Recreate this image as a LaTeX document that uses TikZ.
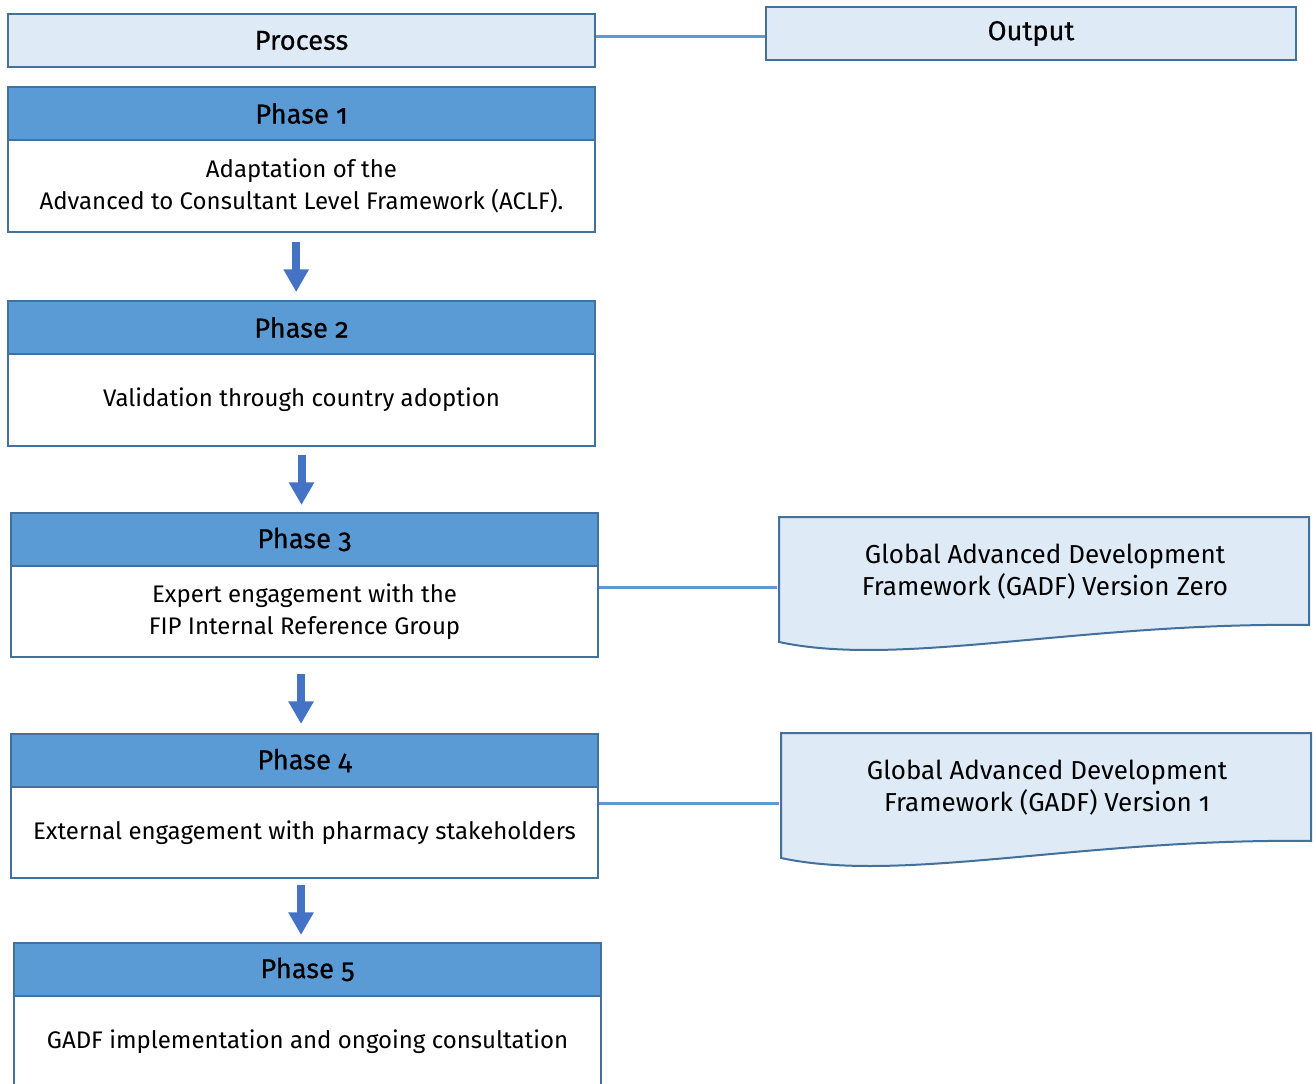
\documentclass[tikz,border=0pt]{standalone}
\usepackage{fontspec}
\setmainfont{Fira Sans}[Numbers=OldStyle]
\newfontfamily\hdrfont{Fira Sans}[Numbers=OldStyle, FakeBold=0.6]
\usetikzlibrary{arrows.meta}
\definecolor{hdrblue}{HTML}{5B9BD5}
\definecolor{edgeblue}{HTML}{41719C}
\definecolor{lightfill}{HTML}{DEEAF6}
\definecolor{arrowblue}{HTML}{4472C4}
\definecolor{linkblue}{HTML}{5B9BD5}
\tikzset{
  boxbase/.style={draw=edgeblue, line width=1.5pt, inner sep=0pt, anchor=north west,
    align=center, text=black, minimum width=587*0.75pt},
  titlebox/.style={boxbase, fill=lightfill, minimum height=53*0.75pt,
    font=\hdrfont\fontsize{20.5}{24}\selectfont},
  hdrbox/.style={boxbase, fill=hdrblue, minimum height=53*0.75pt,
    font=\hdrfont\fontsize{20.5}{24}\selectfont},
  bodybox/.style={boxbase, fill=white, minimum height=92*0.75pt},
  docshape/.style={draw=edgeblue, line width=1.5pt, fill=lightfill},
  doctext/.style={align=center, text=black, inner sep=0pt,
    font=\fontsize{19.5}{24}\selectfont},
  link/.style={draw=linkblue, line width=2.25pt},
  flowarrow/.style={draw=arrowblue, line width=6pt, -{Triangle[width=18pt,length=17pt]}}
}
\begin{document}
\begin{tikzpicture}[x=0.75pt,y=-0.75pt, font=\fontsize{18}{24}\selectfont]
\useasboundingbox (0,0) rectangle (1316,1084);
\clip (0,0) rectangle (1316,1084);

% header row
\node[titlebox] (proc) at (7,13) {Process};
\node[titlebox, minimum width=530*0.75pt] (out) at (765,6) {Output};
\draw[link] (proc.east |- 0,37) -- (out.west |- 0,37);

% phases
\node[hdrbox] (p1h) at (7,86) {Phase 1};
\node[bodybox] (p1b) at (7,139) {Adaptation of the\\Advanced to Consultant Level Framework (ACLF).};

\node[hdrbox] (p2h) at (7,300) {Phase 2};
\node[bodybox] (p2b) at (7,353) {Validation through country adoption};

\node[hdrbox] (p3h) at (10,512) {Phase 3};
\node[bodybox, minimum height=91*0.75pt] (p3b) at (10,565) {Expert engagement with the\\FIP Internal Reference Group};

\node[hdrbox] (p4h) at (10,733) {Phase 4};
\node[bodybox, minimum height=91*0.75pt] (p4b) at (10,786) {External engagement with pharmacy stakeholders};

\node[hdrbox] (p5h) at (13,942) {Phase 5};
\node[bodybox] (p5b) at (13,995) {GADF implementation and ongoing consultation};

% flow arrows
\draw[flowarrow, shorten <=9*0.75pt, shorten >=8*0.75pt]
  ([xshift=-4pt]p1b.south) -- ([xshift=-4pt]p1b.south |- p2h.north);
\draw[flowarrow, shorten <=8*0.75pt, shorten >=7*0.75pt]
  (p2b.south) -- (p2b.south |- p3h.north);
\draw[flowarrow, shorten <=16*0.75pt, shorten >=9*0.75pt]
  ([xshift=-2.6pt]p3b.south) -- ([xshift=-2.6pt]p3b.south |- p4h.north);
\draw[flowarrow, shorten <=6*0.75pt, shorten >=7*0.75pt]
  ([xshift=-2.6pt]p4b.south) -- ([xshift=-2.6pt]p4b.south |- p5h.north);

% output documents
\draw[docshape] (779,517) -- (1309,517) -- (1309,625)
  .. controls (1080,622) and (900,668) .. (779,642) -- cycle;
\node[doctext] (o3) at (1045,572) {Global Advanced Development\\Framework (GADF) Version Zero};
\draw[docshape] (781,733) -- (1311,733) -- (1311,841)
  .. controls (1082,838) and (902,884) .. (781,858) -- cycle;
\node[doctext] (o4) at (1047,788) {Global Advanced Development\\Framework (GADF) Version 1};

\coordinate (o3in) at (777,587);
\coordinate (o4in) at (779,803);
\draw[link] (p3b.east |- o3in) -- (o3in);
\draw[link] (p4b.east |- o4in) -- (o4in);
\end{tikzpicture}
\end{document}
